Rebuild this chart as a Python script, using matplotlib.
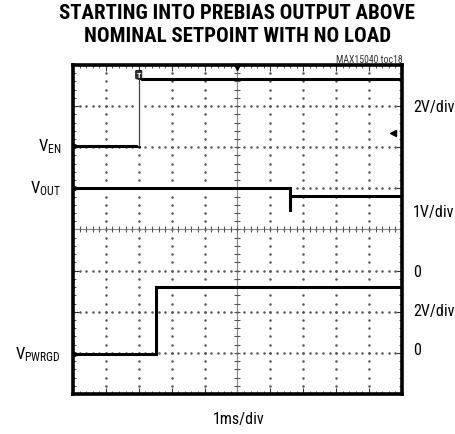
import numpy as np
import matplotlib
matplotlib.use('Agg')
import matplotlib.pyplot as plt

plt.rcParams['font.family'] = ['Roboto Condensed', 'DejaVu Sans']
plt.rcParams['mathtext.fontset'] = 'custom'
plt.rcParams['mathtext.rm'] = 'Roboto Condensed'
plt.rcParams['mathtext.it'] = 'Roboto Condensed'

# scope traces, in screen divisions (x: 0..10, y: 0..8)
en_x = [0, 2.0, 2.0, 10]
en_y = [6.03, 6.03, 7.65, 7.65]
vout_x = [0, 6.6, 6.6, 6.6, 10]
vout_y = [5.0, 5.0, 4.46, 4.81, 4.81]
pwrgd_x = [0, 2.52, 2.52, 10]
pwrgd_y = [0.97, 0.97, 2.61, 2.61]

left_labels = [r'$\mathregular{V_{EN}}$', r'$\mathregular{V_{OUT}}$', r'$\mathregular{V_{PWRGD}}$']
left_label_y = [6.03, 5.02, 0.97]
right_labels = ['2V/div', '1V/div', '0', '2V/div', '0']
right_label_y = [6.98, 4.43, 2.97, 2.02, 1.09]

fig = plt.figure(figsize=(4.56, 4.35), dpi=100)
ax = fig.add_axes([0.160, 0.092, 0.7215, 0.7563])
ax.set_xlim(0, 10)
ax.set_ylim(0, 8)

# dotted graticule
fine_x = np.arange(0, 10.01, 0.2)
fine_y = np.arange(0, 8.01, 0.2)
for gy in range(1, 8):
    if gy == 4:
        continue
    ax.plot(fine_x, np.full_like(fine_x, gy), ls='none', marker='.', ms=1.6, color='#555555')
for gx in range(1, 10):
    if gx == 5:
        continue
    ax.plot(np.full_like(fine_y, gx), fine_y, ls='none', marker='.', ms=1.6, color='#555555')

# center crosshair with ticks
ax.axhline(4, color='#888888', lw=0.8)
ax.axvline(5, color='#888888', lw=0.8)
ax.plot(fine_x, np.full_like(fine_x, 4), ls='none', marker='|', ms=4, mew=0.8, color='#555555')
ax.plot(np.full_like(fine_y, 5), fine_y, ls='none', marker='_', ms=4, mew=0.8, color='#555555')

# traces
for xs, ys in [(en_x, en_y), (vout_x, vout_y), (pwrgd_x, pwrgd_y)]:
    ax.plot(xs, ys, color='black', lw=2.2, solid_joinstyle='miter')
# the EN rising edge is thin
ax.plot([en_x[1], en_x[2]], [en_y[1] + 0.05, en_y[2] - 0.05], color='white', lw=2.4)
ax.plot([en_x[1], en_x[2]], [en_y[1], en_y[2]], color='#444444', lw=0.9)

# markers: trigger, channel grounds, trigger level
ax.text(en_x[1], en_y[2] + 0.03, 'T', fontsize=6, ha='center', va='bottom', color='white',
        fontweight='bold', bbox=dict(boxstyle='round,pad=0.1', fc='#333333', ec='black', lw=0.5))
ax.plot([5], [7.96], marker='v', ms=4, color='black', clip_on=False)
ax.plot([9.72], [6.35], marker='<', ms=4, color='black', clip_on=False)
for yy in left_label_y:
    ax.plot([0.08], [yy], marker='>', ms=3, color='black', clip_on=False)

# frame
ax.set_xticks(range(0, 11))
ax.set_yticks(range(0, 9))
ax.set_xticks(fine_x, minor=True)
ax.set_yticks(fine_y, minor=True)
ax.tick_params(which='both', direction='in', top=True, right=True,
               labelbottom=False, labelleft=False, color='#333333')
ax.tick_params(which='major', length=4, width=0.8)
ax.tick_params(which='minor', length=2.5, width=0.6)
for s in ax.spines.values():
    s.set_linewidth(2.6)

# labels
for lab, yy in zip(left_labels, left_label_y):
    ax.text(-0.36, yy, lab, fontsize=12, ha='right', va='center', clip_on=False)
for lab, yy in zip(right_labels, right_label_y):
    ax.text(10.33, yy, lab, fontsize=11.5, ha='left', va='center', clip_on=False)

fig.text(0.52, 0.968, 'STARTING INTO PREBIAS OUTPUT ABOVE', fontsize=15, fontweight='black',
         ha='center', va='center')
fig.text(0.52, 0.915, 'NOMINAL SETPOINT WITH NO LOAD', fontsize=15, fontweight='black',
         ha='center', va='center')
fig.text(0.883, 0.862, 'MAX15040 toc18', fontsize=7, ha='right', va='center', color='#333333')
fig.text(0.523, 0.036, '1ms/div', fontsize=11.5, ha='center', va='center')

fig.savefig('out.png', dpi=100)
